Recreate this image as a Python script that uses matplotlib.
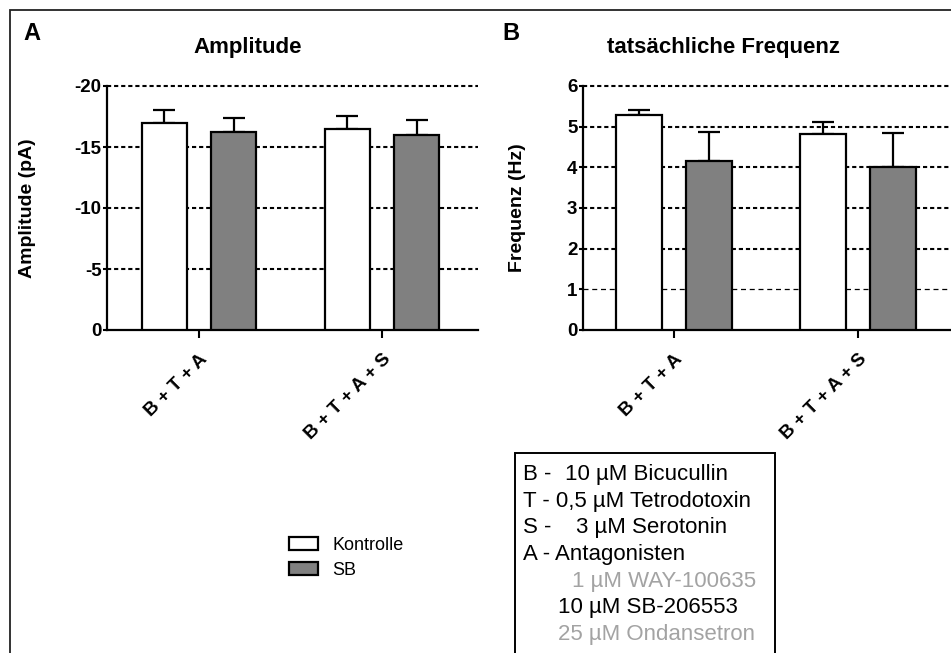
import matplotlib
matplotlib.use("Agg")
import matplotlib.pyplot as plt
from matplotlib.patches import Rectangle
import numpy as np

plt.rcParams['font.family'] = ['Liberation Sans', 'DejaVu Sans']

groups = ["B + T + A", "B + T + A + S"]
series = ["Kontrolle", "SB"]
colors = ["white", "#808080"]

amp_mean = {"Kontrolle": [-17.0, -16.5], "SB": [-16.2, -16.0]}
amp_err = {"Kontrolle": [1.0, 1.0], "SB": [1.15, 1.25]}
amp_ticks = [0, -5, -10, -15, -20]

freq_mean = {"Kontrolle": [5.28, 4.81], "SB": [4.15, 4.02]}
freq_err = {"Kontrolle": [0.12, 0.3], "SB": [0.72, 0.83]}
freq_ticks = [0, 1, 2, 3, 4, 5, 6]

legend_lines = [
    ("B -", "10 µM Bicucullin", "black"),
    ("T - 0,5 µM Tetrodotoxin", None, "black"),
    ("S -", "3 µM Serotonin", "black"),
    ("A - Antagonisten", None, "black"),
    (None, "1 µM WAY-100635", "#a3a3a3"),
    (None, "10 µM SB-206553", "black"),
    (None, "25 µM Ondansetron", "#a3a3a3"),
]

W, H = 951, 653
fig = plt.figure(figsize=(W / 100, H / 100), dpi=100)


def px_axes(left, top, right, bottom):
    return fig.add_axes([left / W, 1 - bottom / H, (right - left) / W, (bottom - top) / H])


def draw_panel(ax, means, errs, ticks, ylabel, xlim, ylim, thin=()):
    x = np.arange(len(groups))
    offs = [-0.19, 0.19]
    handles = []
    for i, s in enumerate(series):
        xs = x + offs[i]
        m = np.array(means[s])
        e = np.array(errs[s])
        if ylim[1] < 0:
            yerr = [e, np.zeros_like(e)]
        else:
            yerr = [np.zeros_like(e), e]
        ax.errorbar(xs, m, yerr=yerr, fmt='none', ecolor='black', elinewidth=1.6,
                    capsize=8, capthick=1.6, zorder=2)
        b = ax.bar(xs, m, 0.246, color=colors[i], edgecolor='black', linewidth=1.6,
                   zorder=3, label=s)
        handles.append(b)
    for t in ticks:
        if t == 0:
            continue
        if t in thin:
            ax.axhline(t, color='black', lw=0.9, ls=(0, (4, 3)), zorder=1)
        else:
            ax.axhline(t, color='black', lw=1.5, ls=(0, (2, 1.4)), zorder=1, clip_on=False)
    ax.set_xlim(*xlim)
    ax.set_ylim(*ylim)
    ax.set_yticks(ticks)
    ax.set_yticklabels([str(t) for t in ticks], fontsize=13.5, fontweight='bold')
    ax.set_xticks(x)
    ax.set_xticklabels(groups, rotation=45, ha='right', rotation_mode='anchor',
                       fontsize=13.5, fontweight='bold')
    ax.tick_params(axis='y', length=3, width=1.5, pad=1)
    ax.tick_params(axis='x', length=6, width=1.5, pad=9)
    for sp in ['top', 'right']:
        ax.spines[sp].set_visible(False)
    for sp in ['left', 'bottom']:
        ax.spines[sp].set_linewidth(1.6)
    ax.set_ylabel(ylabel, fontsize=14, fontweight='bold')
    ax.patch.set_alpha(0)
    return handles


ax_a = px_axes(107, 86, 478, 330)
h = draw_panel(ax_a, amp_mean, amp_err, amp_ticks, "Amplitude (pA)",
               (-0.503, 1.525), (0, -20))
ax_a.yaxis.set_label_coords((36 - 107) / 371, 0.5)

ax_b = px_axes(583, 86, 951, 330)
draw_panel(ax_b, freq_mean, freq_err, freq_ticks, "Frequenz (Hz)",
           (-0.495, 1.505), (0, 6), thin=(1,))
ax_b.yaxis.set_label_coords((526 - 583) / 368, 0.5)

fig.text(248 / W, 1 - 47 / H, "Amplitude", fontsize=16, fontweight='bold',
         ha='center', va='center')
fig.text(723 / W, 1 - 48 / H, "tatsächliche Frequenz", fontsize=16, fontweight='bold',
         ha='center', va='center')
fig.text(32 / W, 1 - 33 / H, "A", fontsize=17, fontweight='bold', ha='center', va='center')
fig.text(511 / W, 1 - 33 / H, "B", fontsize=17, fontweight='bold', ha='center', va='center')

fig.legend(handles=h, labels=series, loc='upper left',
           bbox_to_anchor=(280 / W, 1 - 528 / H), frameon=False, fontsize=13,
           handlelength=1.6, handleheight=0.75, handletextpad=0.8, labelspacing=0.45,
           borderpad=0)

# outer frame
fig.patches.append(Rectangle((10 / W, -0.1), 2, 1.1 - 10 / H, transform=fig.transFigure,
                             fill=False, edgecolor='#222222', lw=1.3))
# abbreviation box
fig.patches.append(Rectangle((515 / W, -0.1), (775 - 515) / W, 0.1 + 1 - 453 / H,
                             transform=fig.transFigure, fill=False, edgecolor='black', lw=1.4))

base_y = 480
for i, (pre, rest, col) in enumerate(legend_lines):
    y = 1 - (base_y + i * 26.7) / H
    if pre is not None:
        fig.text(522.7 / W, y, pre, fontsize=16, color=col, va='baseline')
    if rest is not None:
        if pre is None:
            rx = 571.7 if rest.startswith("1 ") else 558.3
        elif pre == "B -":
            rx = 565
        else:
            rx = 576
        fig.text(rx / W, y, rest, fontsize=16, color=col, va='baseline')

fig.savefig("out.png", dpi=100)
